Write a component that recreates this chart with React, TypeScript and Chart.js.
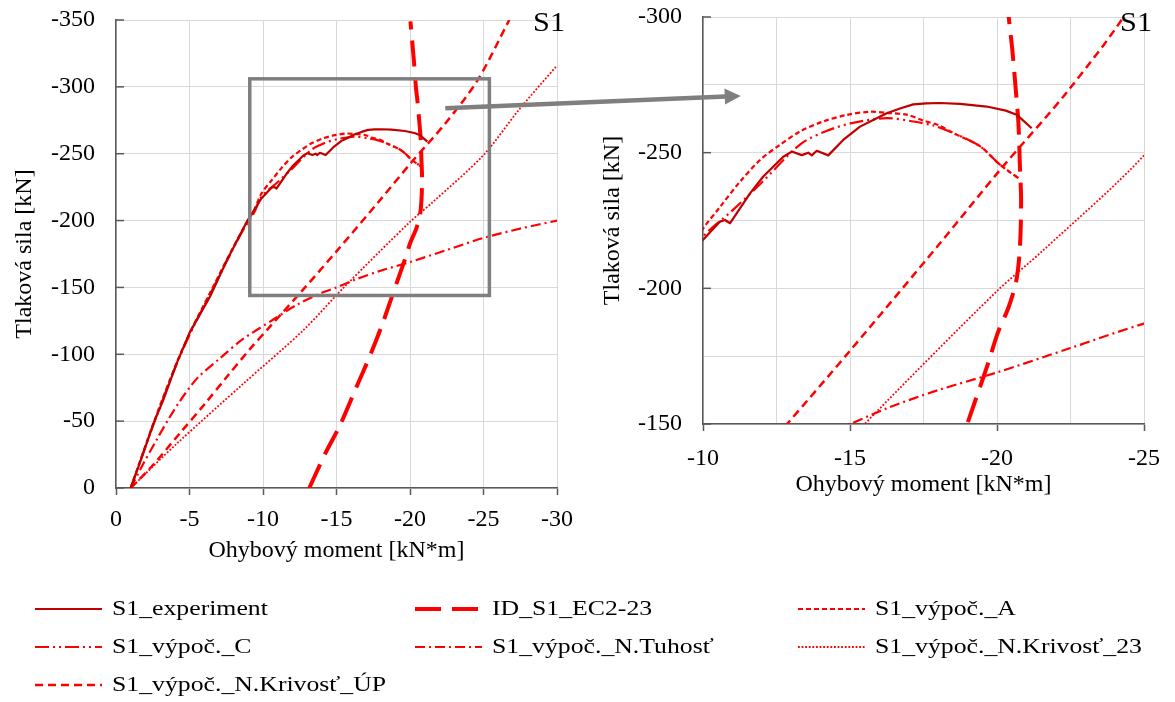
import { useEffect, useRef } from 'react';
import { Chart, registerables } from 'chart.js';

Chart.register(...registerables);

const FONT_FAMILY = '"Liberation Serif", "Times New Roman", Times, serif';
const RED = '#FF0000';
const DARK_RED = '#C00000';
const GRID = '#D9D9D9';
const AXIS = '#595959';
const TEXT = '#000000';
const DECOR = '#7F7F7F';

// ---- data (moment [kN*m], force [kN]) ----
const expMoment = [-1, -1.86, -2.54, -3.22, -4.12, -5.0, -6.39, -7.53, -8.89, -9.9, -10.58, -10.75, -10.92, -11.03, -11.6, -12.05, -12.73, -13.02, -13.36, -13.58, -13.7, -13.87, -14.26, -14.77, -15.34, -15.79, -16.25, -16.7, -17.15, -17.6, -18.06, -18.74, -19.65, -20.3, -20.67, -21.18];
const expForce = [0, -26, -48, -66, -93, -116, -143, -170, -199, -216.7, -224.6, -225.2, -224, -225.8, -235, -241.2, -248.5, -250.4, -249.1, -250, -249, -250.7, -249, -254.7, -259.6, -262, -264.5, -266.3, -267.8, -268.2, -268.3, -268, -267, -265.5, -264, -259];

const ecMoment = [-13.15, -14.2, -15.28, -16.3, -17.3, -18.1, -18.8, -19.05, -19.7, -20.02, -20.4, -20.66, -20.78, -20.82, -20.78, -20.73, -20.65, -20.52, -20.4, -20.3, -20.03];
const ecForce = [0, -25, -48, -74, -99.5, -122, -144, -152, -172.4, -183.4, -193.2, -203, -215.3, -232.4, -244.7, -260.6, -271.7, -288, -300, -315, -349];

const aMoment = [-1, -2.5, -4.1, -5.2, -6.4, -7.5, -8.6, -9.4, -9.9, -10.58, -11.26, -11.94, -12.62, -13.3, -14.09, -14.89, -15.68, -16.25, -16.93, -17.5, -18.0, -18.52, -19.43, -20.1, -20.73];
const aForce = [0, -47, -93, -120, -146, -170, -193, -208, -220.3, -230, -239.3, -247.3, -252.9, -257.8, -261.5, -263.9, -265.1, -264.7, -264, -261.8, -260.2, -257.2, -252.3, -245.6, -240.6];

const cMoment = [-1, -2.5, -4.1, -5.2, -6.4, -7.5, -8.6, -9.4, -9.9, -11.03, -12.0, -13.3, -14.2, -15.1, -16.25, -17.15, -17.84, -18.52, -19.43, -20.1, -20.73];
const cForce = [0, -46, -92, -119, -145, -169, -192, -206, -217.8, -229, -239, -253, -258, -261, -262.7, -261.5, -260, -257.2, -252.3, -245.6, -240.6];

const tuhMoment = [-1, -1.8, -2.76, -3.6, -4.35, -5.0, -5.6, -7.07, -8.55, -10.7, -12.3, -14.0, -15.0, -16.3, -18.0, -20.0, -22.5, -25.0, -27.5, -30.0];
const tuhForce = [0, -17, -36, -52, -65, -75, -83, -97, -110.7, -126, -137, -146, -150, -156, -162.5, -169, -178, -187, -194, -200];

const k23Moment = [-1, -4.12, -8.66, -12.74, -15.5, -20.0, -21.57, -25.0, -27.4, -30.0];
const k23Force = [0, -33, -78, -118, -150, -199, -214, -249, -282.7, -316];

const upMoment = [-1, -2.5, -4.35, -6.05, -7.53, -9.12, -10.5, -12.86, -15.0, -18.06, -20.1, -22.43, -24.6, -26.75];
const upForce = [0, -17, -41, -63, -83, -104, -121, -150, -177, -216.6, -243.6, -273, -305, -350];

const seriesLabels = [
  'S1_experiment',
  'ID_S1_EC2-23',
  'S1_výpoč._A',
  'S1_výpoč._C',
  'S1_výpoč._N.Tuhosť',
  'S1_výpoč._N.Krivosť_23',
  'S1_výpoč._N.Krivosť_ÚP',
];

const yTitle = 'Tlaková sila [kN]';
const xTitle = 'Ohybový moment [kN*m]';
const panelLabel = 'S1';

// zoom box & arrow (in main-chart data units)
const zoomBoxMoment = [-9.1, -25.4];
const zoomBoxForce = [-306, -144];
const arrowFrom = [-22.4, -284];
const arrowTo = [-42.5, -293.2];

function pts(m: number[], n: number[]) {
  return m.map((x, i) => ({ x, y: n[i] }));
}

function makeDatasets() {
  const base = [
    { data: pts(expMoment, expForce), borderColor: DARK_RED, borderWidth: 2.2, borderDash: [] as number[], tension: 0 },
    { data: pts(ecMoment, ecForce), borderColor: RED, borderWidth: 4, borderDash: [26, 11], tension: 0.3 },
    { data: pts(aMoment, aForce), borderColor: RED, borderWidth: 2.2, borderDash: [5, 3], tension: 0.3 },
    { data: pts(cMoment, cForce), borderColor: RED, borderWidth: 2.2, borderDash: [14, 4, 2, 4, 2, 4], tension: 0.3 },
    { data: pts(tuhMoment, tuhForce), borderColor: RED, borderWidth: 2.2, borderDash: [10, 4, 2, 4], tension: 0.3 },
    { data: pts(k23Moment, k23Force), borderColor: RED, borderWidth: 1.8, borderDash: [1.8, 1.8], tension: 0.3 },
    { data: pts(upMoment, upForce), borderColor: RED, borderWidth: 2.5, borderDash: [8, 5], tension: 0.3 },
  ];
  return base.map((d, i) => ({
    ...d,
    label: seriesLabels[i],
    showLine: true,
    pointRadius: 0,
    pointHoverRadius: 0,
    fill: false,
    backgroundColor: d.borderColor,
    borderCapStyle: 'butt' as const,
    borderJoinStyle: 'round' as const,
  }));
}

function stretchedText(ctx: CanvasRenderingContext2D, text: string, x: number, y: number, sx: number) {
  ctx.save();
  ctx.translate(x, y);
  ctx.scale(sx, 1);
  ctx.fillText(text, 0, 0);
  ctx.restore();
}

const insideYTicks = {
  id: 'insideYTicks',
  afterDraw(chart: any, _args: any, opts: any) {
    const { ctx, chartArea } = chart;
    const ys = chart.scales.y;
    ctx.save();
    ctx.strokeStyle = AXIS;
    ctx.lineWidth = 1.5;
    ys.ticks.forEach((t: any) => {
      if (Math.abs(t.value % opts.every) > 1e-6) return;
      const py = ys.getPixelForValue(t.value);
      ctx.beginPath();
      ctx.moveTo(chartArea.left, py);
      ctx.lineTo(chartArea.left + 8, py);
      ctx.stroke();
    });
    ctx.restore();
  },
};

const panelText = {
  id: 'panelText',
  afterDraw(chart: any, _args: any, opts: any) {
    const { ctx } = chart;
    const px = chart.scales.x.getPixelForValue(opts.x);
    const py = chart.scales.y.getPixelForValue(opts.y);
    ctx.save();
    ctx.fillStyle = TEXT;
    ctx.font = `27px ${FONT_FAMILY}`;
    ctx.textAlign = 'center';
    ctx.textBaseline = 'middle';
    stretchedText(ctx, panelLabel, px, py, 1.12);
    ctx.restore();
  },
};

const zoomDecor = {
  id: 'zoomDecor',
  afterDraw(chart: any) {
    const { ctx } = chart;
    const xs = chart.scales.x;
    const ys = chart.scales.y;
    const x1 = xs.getPixelForValue(zoomBoxMoment[0]);
    const x2 = xs.getPixelForValue(zoomBoxMoment[1]);
    const y1 = ys.getPixelForValue(zoomBoxForce[0]);
    const y2 = ys.getPixelForValue(zoomBoxForce[1]);
    ctx.save();
    ctx.strokeStyle = DECOR;
    ctx.lineWidth = 3.5;
    ctx.setLineDash([]);
    ctx.strokeRect(Math.min(x1, x2), Math.min(y1, y2), Math.abs(x2 - x1), Math.abs(y2 - y1));

    const ax = xs.getPixelForValue(arrowFrom[0]);
    const ay = ys.getPixelForValue(arrowFrom[1]);
    const bx = xs.getPixelForValue(arrowTo[0]);
    const by = ys.getPixelForValue(arrowTo[1]);
    const len = Math.hypot(bx - ax, by - ay);
    const ux = (bx - ax) / len;
    const uy = (by - ay) / len;
    const headLen = 16;
    const headHalf = 8;
    const hx = bx - ux * headLen;
    const hy = by - uy * headLen;
    ctx.lineWidth = 4.5;
    ctx.beginPath();
    ctx.moveTo(ax, ay);
    ctx.lineTo(hx + ux, hy + uy);
    ctx.stroke();
    ctx.fillStyle = DECOR;
    ctx.beginPath();
    ctx.moveTo(bx, by);
    ctx.lineTo(hx - uy * headHalf, hy + ux * headHalf);
    ctx.lineTo(hx + uy * headHalf, hy - ux * headHalf);
    ctx.closePath();
    ctx.fill();
    ctx.restore();
  },
};

const gridLegend = {
  id: 'gridLegend',
  afterDraw(chart: any, _args: any, opts: any) {
    const { ctx } = chart;
    const cols: number[] = opts.cols;
    const rows: number[] = opts.rows;
    const lineLen: number = opts.lineLen;
    ctx.save();
    chart.data.datasets.forEach((ds: any, i: number) => {
      const c = i % cols.length;
      const r = Math.floor(i / cols.length);
      const x = cols[c];
      const y = rows[r];
      ctx.strokeStyle = ds.borderColor;
      ctx.lineWidth = ds.borderWidth;
      ctx.lineCap = 'butt';
      ctx.setLineDash(ds.borderDash || []);
      ctx.beginPath();
      ctx.moveTo(x, y);
      ctx.lineTo(x + lineLen, y);
      ctx.stroke();
      ctx.setLineDash([]);
      ctx.fillStyle = TEXT;
      ctx.font = `22px ${FONT_FAMILY}`;
      ctx.textAlign = 'left';
      ctx.textBaseline = 'middle';
      stretchedText(ctx, ds.label, x + lineLen + 10, y, 1.17);
    });
    ctx.restore();
  },
};

const tickFont = { family: FONT_FAMILY, size: 24 };
const titleFont = { family: FONT_FAMILY, size: 24 };

function mainOptions(): any {
  return {
    responsive: false,
    animation: false,
    events: [],
    layout: { padding: { left: 0, top: 20, right: 618, bottom: 134 } },
    plugins: {
      legend: { display: false },
      tooltip: { enabled: false },
      insideYTicks: { every: 50 },
      panelText: { x: -29.46, y: -347 },
      gridLegend: { cols: [35, 415, 798], rows: [609, 647, 685], lineLen: 67 },
    },
    scales: {
      x: {
        type: 'linear',
        min: -30,
        max: 0,
        reverse: true,
        afterFit: (s: any) => { s.height = 80; },
        ticks: { stepSize: 5, autoSkip: false, maxRotation: 0, padding: 10.6, color: TEXT, font: tickFont, callback: (v: any) => String(v) },
        grid: { color: GRID, lineWidth: 1, drawTicks: true, tickLength: 7, tickColor: AXIS, tickWidth: 1.5 },
        border: { display: true, color: AXIS, width: 1.5 },
        title: { display: true, text: xTitle, color: TEXT, font: titleFont, padding: { top: 0, bottom: 2.6 } },
      },
      y: {
        type: 'linear',
        min: -350,
        max: 0,
        reverse: true,
        afterFit: (s: any) => { s.width = 116; },
        ticks: { stepSize: 50, autoSkip: false, padding: 0, color: TEXT, font: tickFont, callback: (v: any) => String(v) },
        grid: { color: GRID, lineWidth: 1, drawTicks: true, tickLength: 21, tickColor: 'rgba(0,0,0,0)' },
        border: { display: true, color: AXIS, width: 1.5 },
        title: { display: true, text: yTitle, color: TEXT, font: titleFont, padding: { top: 10.6, bottom: 0 } },
      },
    },
  };
}

function detailOptions(): any {
  return {
    responsive: false,
    animation: false,
    events: [],
    layout: { padding: { left: 0, top: 17, right: 31, bottom: 21 } },
    plugins: {
      legend: { display: false },
      tooltip: { enabled: false },
      insideYTicks: { every: 50 },
      panelText: { x: -24.73, y: -297.4 },
    },
    scales: {
      x: {
        type: 'linear',
        min: -25,
        max: -10,
        reverse: true,
        afterFit: (s: any) => { s.height = 75; },
        ticks: {
          stepSize: 2.5, autoSkip: false, maxRotation: 0, padding: 13.6, color: TEXT, font: tickFont,
          callback: (v: any) => (Math.abs(Number(v) % 5) < 1e-6 ? String(v) : ''),
        },
        grid: {
          color: GRID, lineWidth: 1, drawTicks: true, tickLength: 7, tickWidth: 1.5,
          tickColor: (c: any) => (c.tick && Math.abs(c.tick.value % 5) < 1e-6 ? AXIS : 'rgba(0,0,0,0)'),
        },
        border: { display: true, color: AXIS, width: 1.5 },
        title: { display: true, text: xTitle, color: TEXT, font: titleFont, padding: { top: 0, bottom: 0 } },
      },
      y: {
        type: 'linear',
        min: -300,
        max: -150,
        reverse: true,
        afterFit: (s: any) => { s.width = 123; },
        ticks: {
          stepSize: 25, autoSkip: false, padding: 0, color: TEXT, font: tickFont,
          callback: (v: any) => (Math.abs(Number(v) % 50) < 1e-6 ? String(v) : ''),
        },
        grid: { color: GRID, lineWidth: 1, drawTicks: true, tickLength: 21, tickColor: 'rgba(0,0,0,0)' },
        border: { display: true, color: AXIS, width: 1.5 },
        title: { display: true, text: yTitle, color: TEXT, font: titleFont, padding: { top: 18.6, bottom: 0 } },
      },
    },
  };
}

export default function App() {
  const mainRef = useRef<HTMLCanvasElement | null>(null);
  const detailRef = useRef<HTMLCanvasElement | null>(null);

  useEffect(() => {
    if (!mainRef.current || !detailRef.current) return;
    const detail = new Chart(detailRef.current, {
      type: 'scatter',
      data: { datasets: makeDatasets() as any },
      options: detailOptions(),
      plugins: [insideYTicks, panelText],
    });
    const main = new Chart(mainRef.current, {
      type: 'scatter',
      data: { datasets: makeDatasets() as any },
      options: mainOptions(),
      plugins: [insideYTicks, panelText, zoomDecor, gridLegend],
    });
    return () => {
      main.destroy();
      detail.destroy();
    };
  }, []);

  return (
    <div style={{ position: 'absolute', left: 0, top: 0, width: 1175, height: 702, background: '#fff', overflow: 'hidden' }}>
      <canvas
        ref={detailRef}
        width={595}
        height={520}
        style={{ position: 'absolute', left: 580, top: 0, width: 595, height: 520, zIndex: 1 }}
      />
      <canvas
        ref={mainRef}
        width={1175}
        height={702}
        style={{ position: 'absolute', left: 0, top: 0, width: 1175, height: 702, zIndex: 2 }}
      />
    </div>
  );
}
